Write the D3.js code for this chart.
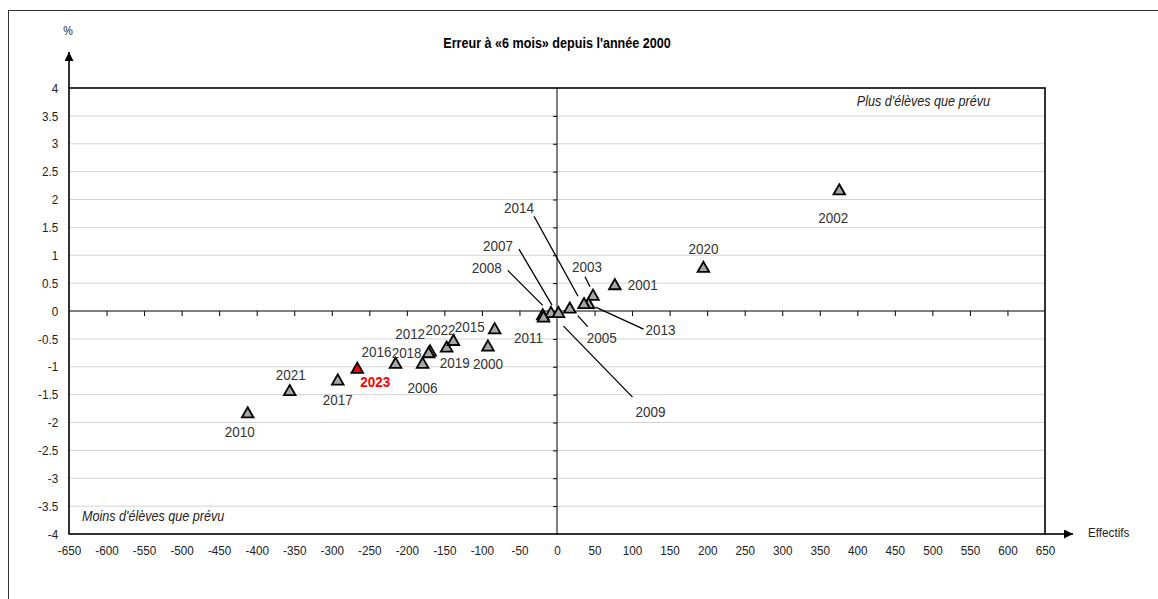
<!DOCTYPE html>
<html>
<head>
<meta charset="utf-8">
<script src="https://cdn.jsdelivr.net/npm/d3@7"></script>
<style>
  body { margin: 0; background: #fff; }
  text { font-family: 'Liberation Sans Narrow', 'Arial Narrow', 'Liberation Sans', sans-serif; }
</style>
</head>
<body>
<div id="chart"></div>
<script>
// years, enrolment gap (effectifs) and error in %
let years = ['2000', '2001', '2002', '2003', '2005', '2006', '2007', '2008', '2009', '2010', '2011',
  '2012', '2013', '2014', '2015', '2016', '2017', '2018', '2019', '2020', '2021', '2022', '2023']
let effectifs = [-92, 77, 376, 48, 17, -179, -8, -19, 2, -412, -18,
  -169, 42, 36, -83, -215, -292, -171, -147, 195, -356, -138, -266]
let erreurs = [-0.62, 0.48, 2.18, 0.29, 0.06, -0.93, -0.02, -0.06, -0.02, -1.82, -0.10,
  -0.71, 0.14, 0.14, -0.31, -0.93, -1.23, -0.74, -0.64, 0.79, -1.42, -0.52, -1.02]

let xTicks = d3.range(-650, 651, 50)
let yTicks = d3.range(-4, 4.01, 0.5)

let highlight = '2023'

// label placement relative to the marker (px), plus optional leader line
let labelPos = {
  '2000': [0, 18], '2001': [28, 0], '2002': [-6, 28], '2003': [-6, -28, [-8, -18, -3, -8]],
  '2005': [32, 30, [8, 8, 18, 19]], '2006': [0, 25], '2007': [-53, -67, [-32, -63, 1, -7]],
  '2008': [-56, -47, [-35, -44, 0, -9]], '2009': [92, 99, [5, 14, 74, 85]], '2010': [-8, 19],
  '2011': [-15, 21], '2012': [-20, -17], '2013': [72, 26, [7, 4, 55, 26]],
  '2014': [-65, -96, [-50, -87, -6, -7]], '2015': [-25, -2], '2016': [-19, -11], '2017': [0, 20],
  '2018': [-22, 0], '2019': [8, 16], '2020': [0, -18], '2021': [1, -16], '2022': [-13, -10],
  '2023': [18, 14]
}

let datapoints = years.map((d, i) => ({ year: d, x: effectifs[i], y: erreurs[i] }))

let width = 1158
let height = 599
let narrow = 0.9

let svg = d3.select('#chart')
  .append('svg')
  .attr('width', width)
  .attr('height', height)

svg.append('rect')
  .attr('x', 8.5)
  .attr('y', 10.5)
  .attr('width', 1200)
  .attr('height', 700)
  .attr('fill', 'none')
  .attr('stroke', '#333')

let xScale = d3.scaleLinear().domain([-650, 650]).range([69, 1045])
let yScale = d3.scaleLinear().domain([-4, 4]).range([534, 88])

let defs = svg.append('defs')
defs.append('marker')
  .attr('id', 'arrow')
  .attr('viewBox', '0 0 10 10')
  .attr('refX', 10)
  .attr('refY', 5)
  .attr('markerUnits', 'userSpaceOnUse')
  .attr('markerWidth', 10)
  .attr('markerHeight', 9)
  .attr('orient', 'auto')
  .append('path')
  .attr('d', 'M0,0 L10,5 L0,10 Z')
  .attr('fill', '#000')

// grid lines
svg.append('g')
  .selectAll('line')
  .data(yTicks.filter(d => d !== 0 && Math.abs(d) !== 4))
  .enter()
  .append('line')
  .attr('x1', xScale(-650))
  .attr('x2', xScale(650))
  .attr('y1', d => yScale(d))
  .attr('y2', d => yScale(d))
  .attr('stroke', '#d4d4d4')
  .attr('stroke-width', 1)

// tick labels
let xAxis = svg.append('g')
  .attr('transform', `translate(0,${yScale(-4)})`)
  .call(d3.axisBottom(xScale).tickValues(xTicks).tickSize(0).tickPadding(12).tickFormat(d => String(d)))
xAxis.select('.domain').remove()
xAxis.selectAll('text').attr('font-size', 13).attr('fill', '#222')
  .attr('transform', `scale(${narrow},1)`)

let yAxis = svg.append('g')
  .attr('transform', `translate(${xScale(-650)},0)`)
  .call(d3.axisLeft(yScale).tickValues(yTicks).tickSize(0).tickPadding(12).tickFormat(d => String(d)))
yAxis.select('.domain').remove()
yAxis.selectAll('text').attr('font-size', 13).attr('fill', '#222')
  .attr('transform', `scale(${narrow},1)`)

// axes through zero
let zeroX = svg.append('g')
  .attr('transform', `translate(0,${yScale(0)})`)
  .call(d3.axisBottom(xScale).tickValues(xTicks.filter(d => Math.abs(d) !== 650)).tickSize(5).tickFormat(''))
zeroX.select('.domain').attr('d', `M${xScale(-650)},0H${xScale(650)}`).attr('stroke', '#000')
zeroX.selectAll('.tick line').attr('stroke', '#000')

let zeroY = svg.append('g')
  .attr('transform', `translate(${xScale(0)},0)`)
  .call(d3.axisLeft(yScale).tickValues(yTicks.filter(d => Math.abs(d) !== 4)).tickSize(4).tickFormat(''))
zeroY.select('.domain').attr('d', `M0,${yScale(4)}V${yScale(-4)}`).attr('stroke', '#000')
zeroY.selectAll('.tick line').attr('stroke', '#000')

// plot border
svg.append('rect')
  .attr('x', xScale(-650))
  .attr('y', yScale(4))
  .attr('width', xScale(650) - xScale(-650))
  .attr('height', yScale(-4) - yScale(4))
  .attr('fill', 'none')
  .attr('stroke', '#000')
  .attr('stroke-width', 1.6)

// arrows
svg.append('line')
  .attr('x1', xScale(-650))
  .attr('x2', xScale(-650))
  .attr('y1', yScale(4))
  .attr('y2', yScale(4) - 36)
  .attr('stroke', '#000')
  .attr('stroke-width', 1.6)
  .attr('marker-end', 'url(#arrow)')

svg.append('line')
  .attr('x1', xScale(650))
  .attr('x2', xScale(650) + 28)
  .attr('y1', yScale(-4))
  .attr('y2', yScale(-4))
  .attr('stroke', '#000')
  .attr('stroke-width', 1.6)
  .attr('marker-end', 'url(#arrow)')

function label(x, y, txt, size) {
  return svg.append('text')
    .attr('transform', `translate(${x},${y}) scale(${narrow},1)`)
    .attr('font-size', size)
    .attr('fill', '#222')
    .text(txt)
}

label(xScale(-650) - 1, 35, '%', 12).attr('text-anchor', 'middle')
label(1088, 537, 'Effectifs', 13)
label(xScale(0), 48, 'Erreur à «6 mois» depuis l\'année 2000', 14)
  .attr('text-anchor', 'middle')
  .attr('font-weight', 'bold')
  .attr('fill', '#000')
label(990, 106, 'Plus d\'élèves que prévu', 14)
  .attr('text-anchor', 'end')
  .attr('font-style', 'italic')
label(82, 521, 'Moins d\'élèves que prévu', 14)
  .attr('font-style', 'italic')

// leader lines
svg.append('g')
  .selectAll('line')
  .data(datapoints.filter(d => labelPos[d.year][2]))
  .enter()
  .append('line')
  .attr('x1', d => xScale(d.x) + labelPos[d.year][2][0])
  .attr('y1', d => yScale(d.y) + labelPos[d.year][2][1])
  .attr('x2', d => xScale(d.x) + labelPos[d.year][2][2])
  .attr('y2', d => yScale(d.y) + labelPos[d.year][2][3])
  .attr('stroke', '#000')
  .attr('stroke-width', 1.3)

// markers
let triangle = 'M0,-5.2L5.8,5L-5.8,5Z'
svg.append('g')
  .selectAll('path')
  .data(datapoints)
  .enter()
  .append('path')
  .attr('d', triangle)
  .attr('transform', d => `translate(${xScale(d.x)},${yScale(d.y)})`)
  .attr('fill', d => d.year === highlight ? '#ff0000' : '#a6a6a6')
  .attr('stroke', '#000')
  .attr('stroke-width', 1.8)
  .attr('stroke-linejoin', 'miter')

// year labels
svg.append('g')
  .selectAll('text')
  .data(datapoints)
  .enter()
  .append('text')
  .attr('transform', d => `translate(${xScale(d.x) + labelPos[d.year][0]},${yScale(d.y) + labelPos[d.year][1]}) scale(${narrow},1)`)
  .attr('dy', '0.36em')
  .attr('text-anchor', 'middle')
  .attr('font-size', 15)
  .attr('font-weight', d => d.year === highlight ? 'bold' : 'normal')
  .attr('fill', d => d.year === highlight ? '#ff0000' : '#333')
  .text(d => d.year)
</script>
</body>
</html>
